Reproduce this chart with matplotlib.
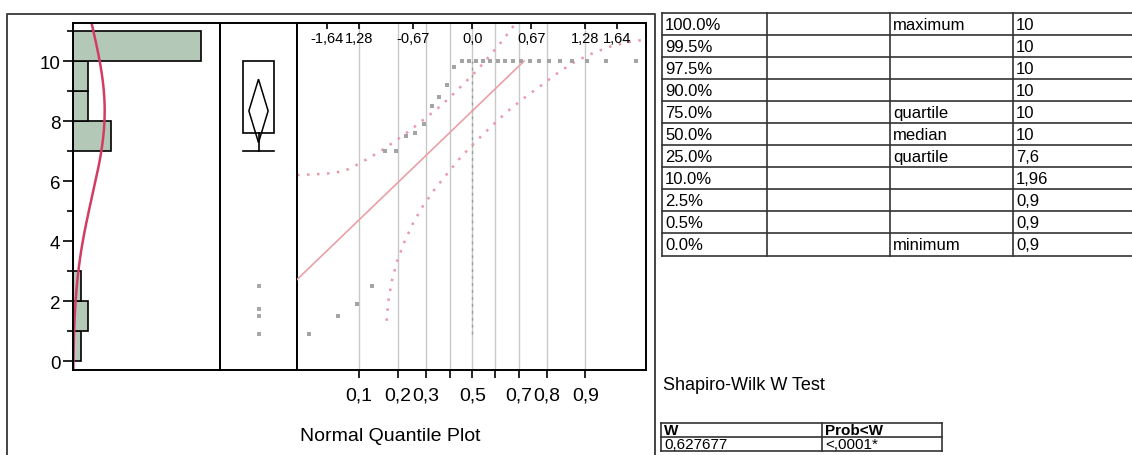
import matplotlib
matplotlib.use("Agg")
import matplotlib.pyplot as plt
import matplotlib.transforms as mtrans
from matplotlib.patches import Polygon, Rectangle
from statistics import NormalDist
import numpy as np

plt.rcParams['font.family'] = ['Liberation Sans', 'DejaVu Sans']

values = [0.9, 1.5, 1.9, 2.5, 7.0, 7.0, 7.5, 7.6, 7.9, 8.5, 8.8, 9.2, 9.8] + [10.0] * 17

# histogram (bins of width 1)
bin_lo = [0, 1, 2, 3, 4, 5, 6, 7, 8, 9, 10]
bin_counts = [1, 2, 1, 0, 0, 0, 0, 5, 2, 2, 17]

# box plot summary
q1, q3 = 7.6, 10.0
whisker_lo, whisker_hi = 7.0, 10.0
outliers = [0.9, 1.5, 1.5, 1.75, 2.5]
t_crit = 2.045

# confidence bands of the normal quantile plot
upper_z = [-1.985, -1.8, -1.6, -1.45, -1.3, -1.15, -1.0, -0.85, -0.7, -0.55, -0.4,
           -0.25, -0.1, 0.05, 0.2, 0.35, 0.5]
upper_v = [6.2, 6.22, 6.26, 6.33, 6.55, 6.8, 7.07, 7.38, 7.7, 8.05, 8.4,
           8.8, 9.23, 9.68, 10.18, 10.71, 11.3]
lower_z = [-0.97, -0.95, -0.91, -0.85, -0.77, -0.67, -0.56, -0.43, -0.28, -0.14, 0.0,
           0.106, 0.265, 0.43, 0.62, 0.8, 0.985, 1.17, 1.37, 1.56, 1.75, 1.967]
lower_v = [1.34, 2.01, 2.68, 3.34, 3.96, 4.6, 5.16, 5.71, 6.26, 6.76, 7.2,
           7.51, 7.96, 8.4, 8.84, 9.23, 9.64, 9.99, 10.27, 10.48, 10.62, 10.72]

top_z = [-1.64, -1.28, -0.67, 0.0, 0.67, 1.28, 1.64]
top_labels = ['-1,64', '1,28', '-0,67', '0,0', '0,67', '1,28', '1,64']
probs = [0.1, 0.2, 0.3, 0.4, 0.5, 0.6, 0.7, 0.8, 0.9]
prob_labels = ['0,1', '0,2', '0,3', '', '0,5', '', '0,7', '0,8', '0,9']

# quantile table
q_levels = ['100.0%', '99.5%', '97.5%', '90.0%', '75.0%', '50.0%', '25.0%',
            '10.0%', '2.5%', '0.5%', '0.0%']
q_names = ['maximum', '', '', '', 'quartile', 'median', 'quartile', '', '', '', 'minimum']
q_values = ['10', '10', '10', '10', '10', '10', '7,6', '1,96', '0,9', '0,9', '0,9']
sw_header = ['W', 'Prob<W']
sw_values = ['0,627677', '<,0001*']

W, H = 1132, 456
fig = plt.figure(figsize=(W / 100, H / 100), dpi=100)

def px_axes(x0, y0, x1, y1):
    return fig.add_axes([x0 / W, 1 - y1 / H, (x1 - x0) / W, (y1 - y0) / H])

# overlay in pixel coordinates for frame and tables
ov = fig.add_axes([0, 0, 1, 1], zorder=-5)
ov.set_xlim(0, W)
ov.set_ylim(H, 0)
ov.axis('off')

ylo, yhi = -0.3, 11.267
n = len(values)
mean = np.mean(values)
sd = np.std(values, ddof=1)
nd = NormalDist()

# ---- histogram
ax1 = px_axes(73, 24, 220, 371)
ax1.barh(bin_lo, bin_counts, height=1, align='edge', color='#b4c8b8',
         edgecolor='black', linewidth=1.2)
yy = np.linspace(ylo, yhi, 300)
dens = n * 1.0 / (sd * np.sqrt(2 * np.pi)) * np.exp(-(yy - mean) ** 2 / (2 * sd ** 2))
ax1.plot(dens, yy, color='#d23c64', lw=1.8, clip_on=True)
ax1.set_xlim(0, 19.6)
ax1.set_ylim(ylo, yhi)
ax1.set_xticks([])
ax1.set_yticks([0, 2, 4, 6, 8, 10])
ax1.set_yticks([1, 3, 5, 7, 9, 11], minor=True)
ax1.tick_params(axis='y', which='major', length=7, width=1.2, labelsize=13.5, pad=2)
ax1.tick_params(axis='y', which='minor', length=4, width=1.2)

# ---- box plot
ax2 = px_axes(220, 24, 297, 371)
ax2.set_xlim(0, 1)
ax2.set_ylim(ylo, yhi)
ax2.set_xticks([])
ax2.set_yticks([])
ax2.add_patch(Rectangle((0.30, q1), 0.40, q3 - q1, fill=False, edgecolor='black', lw=1.2))
ax2.plot([0.5, 0.5], [whisker_lo, q1], color='black', lw=1.2)
ax2.plot([0.30, 0.70], [whisker_lo, whisker_lo], color='black', lw=1.2)
ci = t_crit * sd / np.sqrt(n)
ax2.add_patch(Polygon([[0.5, mean + ci], [0.625, mean], [0.5, mean - ci], [0.375, mean]],
                      closed=True, fill=False, edgecolor='black', lw=1.1))
ax2.scatter([0.506] * len(outliers), outliers, s=8, marker='s', color='#a8a8a8', lw=0)

# ---- normal quantile plot
ax3 = px_axes(297, 24, 646, 371)
ax3.set_xlim(-1.985, 1.967)
ax3.set_ylim(ylo, yhi)
grid_z = [nd.inv_cdf(p) for p in probs]
for gz in grid_z:
    ax3.axvline(gz, color='#c8c8c8', lw=1, zorder=0)
ax3.set_xticks(grid_z)
ax3.set_xticklabels(prob_labels)
ax3.tick_params(axis='x', length=6, width=1.2, labelsize=14, pad=6)
ax3.set_yticks([])
ax3.plot([0, 0], [min(values), max(values)], color='#8fa38f', lw=1, ls=(0, (2, 3)), zorder=1)
ax3.plot(upper_z, upper_v, color='#e899aa', lw=1.8, ls=(0, (1, 3)), zorder=2)
ax3.plot(lower_z, lower_v, color='#e899aa', lw=1.8, ls=(0, (1, 3)), zorder=2)
z_end = (max(values) - mean) / sd
zl = np.array([-1.985, z_end])
ax3.plot(zl, mean + sd * zl, color='#eaa0a6', lw=1.2, zorder=3)
qz = [nd.inv_cdf((i + 1) / (n + 1)) for i in range(n)]
ax3.scatter(qz, values, s=8, marker='s', color='#a4a4a4', lw=0, zorder=4)
sec = ax3.secondary_xaxis('top')
sec.set_xticks(top_z)
sec.set_xticklabels([])
sec.tick_params(direction='in', length=4, width=1.2)
blend = mtrans.blended_transform_factory(ax3.transData, ax3.transAxes)
for z, lbl in zip(top_z, top_labels):
    ax3.text(z, 1 - 15 / 347, lbl, transform=blend, ha='center', va='center', fontsize=10.5)

for a in (ax1, ax2, ax3):
    for s in a.spines.values():
        s.set_linewidth(1.4)
for s in sec.spines.values():
    s.set_linewidth(1.4)

ov.text(390, 437, 'Normal Quantile Plot', ha='center', va='center', fontsize=14)

# outer frame of the left panel
ov.plot([7, 7, 655, 655], [456, 15, 15, 456], color='#444444', lw=1.4)

# ---- quantile table
tx = [662, 767, 890, 1013]
row_h = (256.5 - 14) / len(q_levels)
for k in range(len(q_levels) + 1):
    ov.plot([662, W], [14 + k * row_h] * 2, color='#333333', lw=1.2)
for x in tx:
    ov.plot([x, x], [14, 256.5], color='#333333', lw=1.2)
for k in range(len(q_levels)):
    yc = 14 + (k + 0.5) * row_h + 0.5
    ov.text(665, yc, q_levels[k], va='center', ha='left', fontsize=12)
    ov.text(893, yc, q_names[k], va='center', ha='left', fontsize=12)
    ov.text(1016, yc, q_values[k], va='center', ha='left', fontsize=12)

# ---- Shapiro-Wilk
ov.text(663, 386, 'Shapiro-Wilk W Test', va='center', ha='left', fontsize=13)
for yv in [424, 438, 452]:
    ov.plot([661, 942], [yv, yv], color='#333333', lw=1.2)
for xv in [661, 822, 942]:
    ov.plot([xv, xv], [424, 452], color='#333333', lw=1.2)
ov.text(664, 431.5, sw_header[0], va='center', ha='left', fontsize=11, fontweight='bold')
ov.text(825, 431.5, sw_header[1], va='center', ha='left', fontsize=11, fontweight='bold')
ov.text(664, 445.5, sw_values[0], va='center', ha='left', fontsize=11)
ov.text(825, 445.5, sw_values[1], va='center', ha='left', fontsize=11)

fig.savefig('out.png', dpi=100)
